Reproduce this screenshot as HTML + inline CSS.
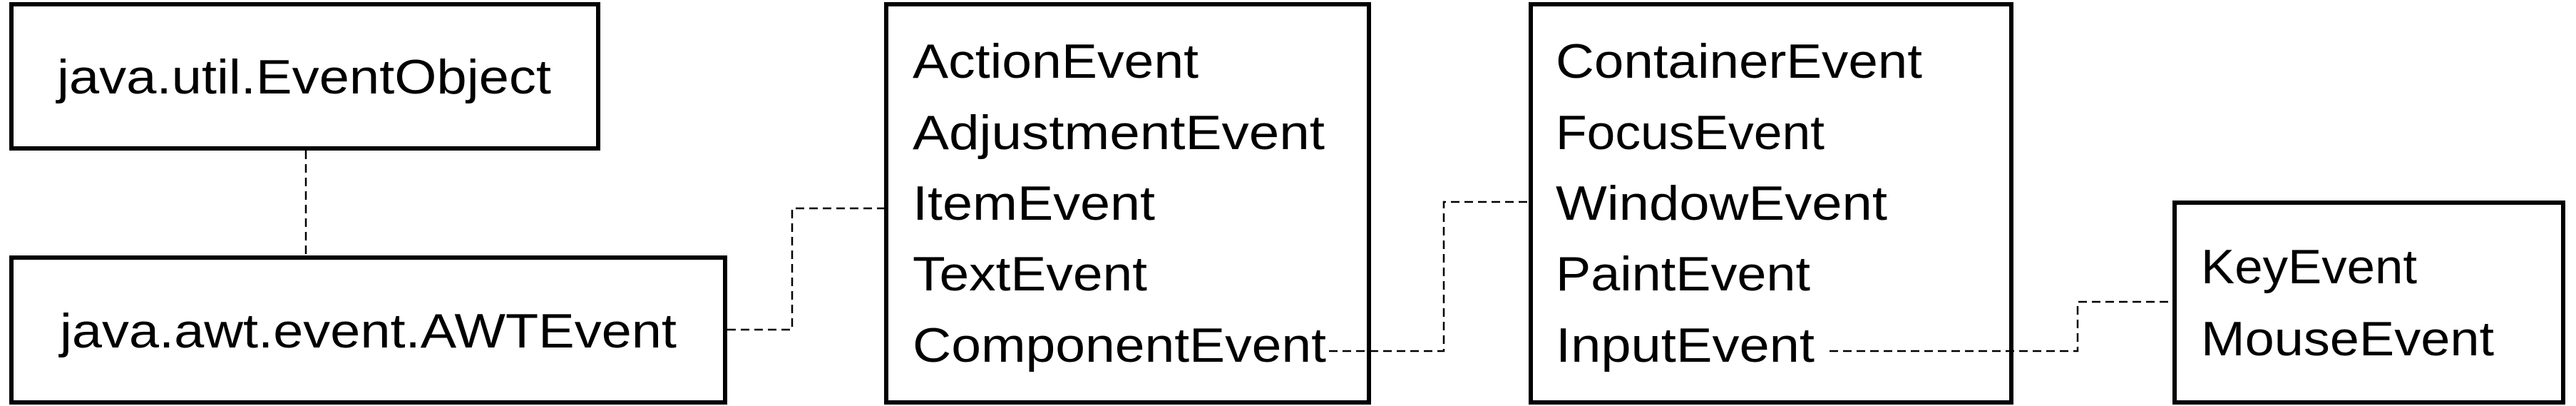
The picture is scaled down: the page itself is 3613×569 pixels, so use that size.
<!DOCTYPE html>
<html><head><meta charset="utf-8"><style>html,body{margin:0;padding:0;background:#fff;}svg{display:block}</style></head>
<body>
<svg width="3613" height="569" viewBox="0 0 3613 569" xmlns="http://www.w3.org/2000/svg">
<g fill="#fff" stroke="#000" stroke-width="6">
<rect x="16" y="6" width="823" height="202"/>
<rect x="16" y="361" width="1001" height="203"/>
<rect x="1243" y="6" width="677" height="558"/>
<rect x="2147" y="6" width="674" height="558"/>
<rect x="3050" y="284" width="545" height="280"/>
</g>
<g fill="none" stroke="#000" stroke-width="2.5" stroke-dasharray="12 7">
<path d="M429 211 V358"/>
<path d="M1020 462 H1111 V292 H1240"/>
<path d="M1864 492 H2025 V283 H2144"/>
<path d="M2566 492 H2914 V423 H3047"/>
</g>
<g font-family="Liberation Sans, sans-serif" font-size="68" fill="#000" lengthAdjust="spacingAndGlyphs">
<text x="80" y="131" textLength="693" lengthAdjust="spacingAndGlyphs">java.util.EventObject</text>
<text x="84" y="487" textLength="865" lengthAdjust="spacingAndGlyphs">java.awt.event.AWTEvent</text>
<text x="1280" y="109" textLength="401" lengthAdjust="spacingAndGlyphs">ActionEvent</text>
<text x="1280" y="209" textLength="578" lengthAdjust="spacingAndGlyphs">AdjustmentEvent</text>
<text x="1280" y="308" textLength="340" lengthAdjust="spacingAndGlyphs">ItemEvent</text>
<text x="1280" y="407" textLength="329" lengthAdjust="spacingAndGlyphs">TextEvent</text>
<text x="1280" y="507" textLength="580" lengthAdjust="spacingAndGlyphs">ComponentEvent</text>
<text x="2182" y="109" textLength="514" lengthAdjust="spacingAndGlyphs">ContainerEvent</text>
<text x="2182" y="209" textLength="377" lengthAdjust="spacingAndGlyphs">FocusEvent</text>
<text x="2182" y="308" textLength="465" lengthAdjust="spacingAndGlyphs">WindowEvent</text>
<text x="2182" y="407" textLength="357" lengthAdjust="spacingAndGlyphs">PaintEvent</text>
<text x="2182" y="507" textLength="363" lengthAdjust="spacingAndGlyphs">InputEvent</text>
<text x="3087" y="397" textLength="303" lengthAdjust="spacingAndGlyphs">KeyEvent</text>
<text x="3087" y="498" textLength="411" lengthAdjust="spacingAndGlyphs">MouseEvent</text>
</g>
</svg>
</body></html>
